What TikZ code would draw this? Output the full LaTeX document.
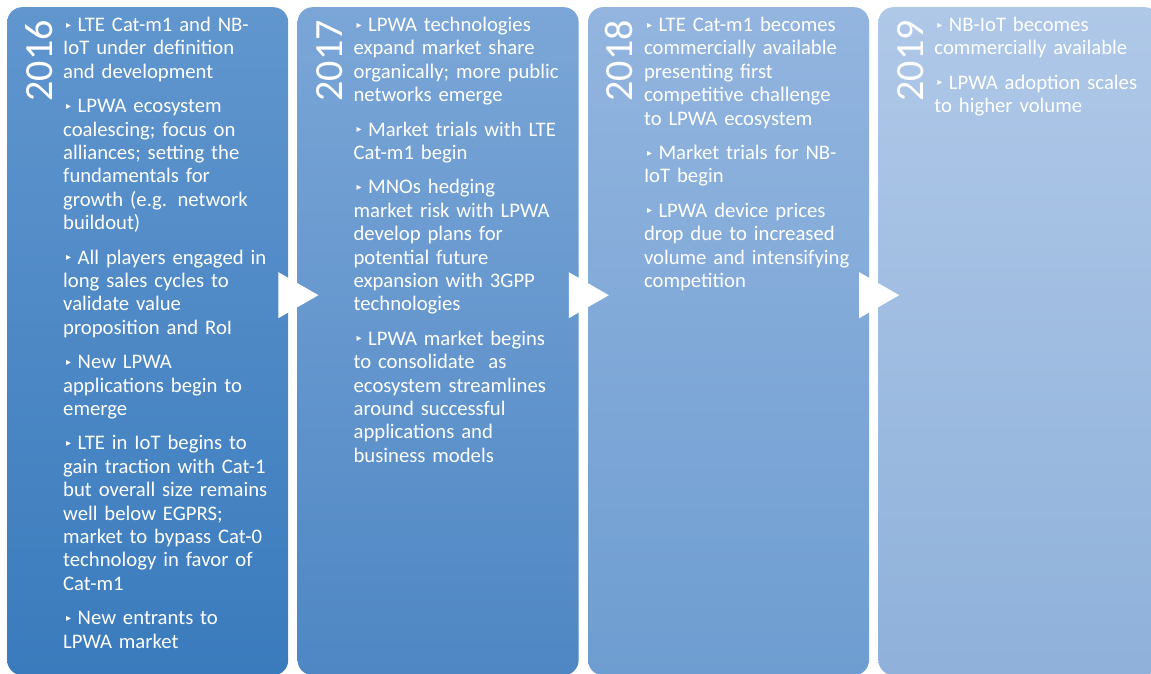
\documentclass[tikz,border=0pt]{standalone}
\usepackage{fontspec}
\setmainfont{Carlito}
\newfontfamily\symfont{DejaVu Sans}
\usetikzlibrary{positioning}

\definecolor{top2016}{HTML}{6196CE}
\definecolor{bot2016}{HTML}{3A7BBD}
\definecolor{top2017}{HTML}{7BA6D7}
\definecolor{bot2017}{HTML}{4E87C4}
\definecolor{top2018}{HTML}{93B5DF}
\definecolor{bot2018}{HTML}{6E9DD1}
\definecolor{top2019}{HTML}{AFC8E8}
\definecolor{bot2019}{HTML}{8FB1DA}

\newcommand{\bul}{\hspace*{3pt}\raisebox{3.5pt}{\symfont\fontsize{10}{10}\selectfont ▸}\hspace{6.5pt}}

\begin{document}
\begin{tikzpicture}
    \tikzstyle{phase}=[rectangle, rounded corners=15pt, minimum width=281pt, minimum height=668pt, inner sep=0pt]
    \tikzstyle{year}=[rotate=90, anchor=base east, inner sep=0pt, text=white, font=\fontsize{40}{40}\selectfont]
    \tikzstyle{items}=[anchor=north west, inner sep=0pt, text width=230pt, align=left, text=white, font=\fontsize{20.7}{23.4}\selectfont]
    \tikzstyle{pointer}=[fill=white, draw=none]
    \useasboundingbox[fill=white] (0pt,0pt) rectangle (1151pt,674pt);

    % phases
    \node[phase, anchor=north west, top color=top2016, bottom color=bot2016] (c2016) at (7pt,667pt) {};
    \node[phase, right=9pt of c2016, top color=top2017, bottom color=bot2017] (c2017) {};
    \node[phase, right=9pt of c2017, top color=top2018, bottom color=bot2018] (c2018) {};
    \node[phase, right=9pt of c2018, top color=top2019, bottom color=bot2019] (c2019) {};

    % years
    \node[year] (y2016) at ([xshift=45pt, yshift=-13pt]c2016.north west) {2016};
    \node[year] (y2017) at ([xshift=45pt, yshift=-13pt]c2017.north west) {2017};
    \node[year] (y2018) at ([xshift=45pt, yshift=-13pt]c2018.north west) {2018};
    \node[year] (y2019) at ([xshift=45pt, yshift=-13pt]c2019.north west) {2019};

    % bullet texts
    \node[items] (t2016) at ([xshift=56pt, yshift=-10pt]c2016.north west) {\bul LTE Cat-m1 and NB-\\IoT under definition\\and development\\[11pt]
        \bul LPWA ecosystem\\coalescing; focus on\\alliances; setting the\\fundamentals for\\growth (e.g. network\\buildout)\\[11pt]
        \bul All players engaged in\\long sales cycles to\\validate value\\proposition and RoI\\[11pt]
        \bul New LPWA\\applications begin to\\emerge\\[11pt]
        \bul LTE in IoT begins to\\gain traction with Cat-1\\but overall size remains\\well below EGPRS;\\market to bypass Cat-0\\technology in favor of\\Cat-m1\\[11pt]
        \bul New entrants to\\LPWA market};
    \node[items] (t2017) at ([xshift=56pt, yshift=-10pt]c2017.north west) {\bul LPWA technologies\\expand market share\\organically; more public\\networks emerge\\[11pt]
        \bul Market trials with LTE\\Cat-m1 begin\\[11pt]
        \bul MNOs hedging\\market risk with LPWA\\develop plans for\\potential future\\expansion with 3GPP\\technologies\\[11pt]
        \bul LPWA market begins\\to consolidate\ \ as\\ecosystem streamlines\\around successful\\applications and\\business models};
    \node[items] (t2018) at ([xshift=56pt, yshift=-10pt]c2018.north west) {\bul LTE Cat-m1 becomes\\commercially available\\presenting first\\competitive challenge\\to LPWA ecosystem\\[11pt]
        \bul Market trials for NB-\\IoT begin\\[11pt]
        \bul LPWA device prices\\drop due to increased\\volume and intensifying\\competition};
    \node[items] (t2019) at ([xshift=56pt, yshift=-10pt]c2019.north west) {\bul NB-IoT becomes\\commercially available\\[11pt]
        \bul LPWA adoption scales\\to higher volume};

    % arrows between phases
    \fill[pointer] ([xshift=-10pt, yshift=69pt]c2016.east) -- ++(40pt,-23pt) -- ++(-40pt,-23pt) -- cycle;
    \fill[pointer] ([xshift=-10pt, yshift=69pt]c2017.east) -- ++(40pt,-23pt) -- ++(-40pt,-23pt) -- cycle;
    \fill[pointer] ([xshift=-10pt, yshift=69pt]c2018.east) -- ++(40pt,-23pt) -- ++(-40pt,-23pt) -- cycle;
\end{tikzpicture}
\end{document}
